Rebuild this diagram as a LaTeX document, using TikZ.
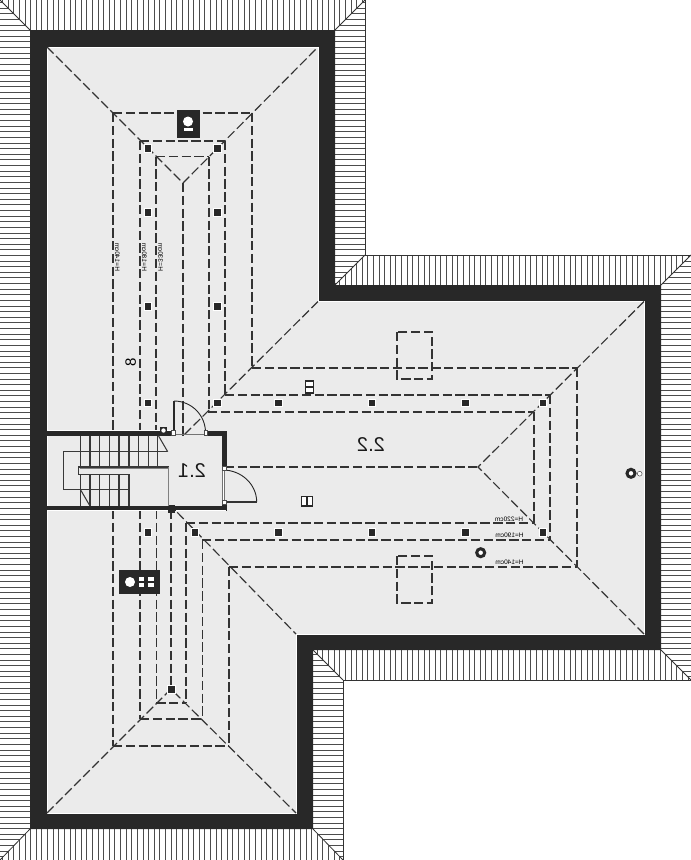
\documentclass[tikz,border=0pt]{standalone}
\usepackage{graphicx}
\usepackage{fontspec}
\setmainfont{Liberation Sans}
\definecolor{wallc}{HTML}{282828}
\definecolor{floorc}{HTML}{EBEBEB}
\definecolor{linec}{HTML}{333333}
\begin{document}
\begin{tikzpicture}[x=1pt,y=-1pt,line join=miter,
	ridge/.style={dashed,dash pattern=on 9.3pt off 3.5pt,line width=1.15pt,color=linec},
	hatchline/.style={line width=.85pt,color=black!70},
	stairline/.style={line width=1.05pt,color=black!78},
	post/.style={draw=white,line width=.5pt,fill=wallc,minimum size=7.5pt,inner sep=0pt},
	dimlbl/.style={font=\fontsize{6.5}{7}\selectfont,inner sep=0pt,color=black},
	roomlbl/.style={font=\fontsize{20}{22}\selectfont,inner sep=0pt,color=black!90}]
	\useasboundingbox (0,0) rectangle (691,860);
	\fill[white] (0,0) rectangle (691,860);
	% roof hatching, level lines
	\begin{scope}
		\clip (0,0)--(30,30)--(30,829)--(0,860)--cycle
			(335,30)--(365,0)--(365,255)--(335,285)--cycle
			(661,285)--(691,255)--(691,680)--(661,650)--cycle
			(313,650)--(343,680)--(343,860)--(313,829)--cycle;
		\foreach \y in {2.5,8.12,...,860}
		\draw[hatchline] (0,\y)--(691,\y);
	\end{scope}
	% roof hatching, upright lines
	\begin{scope}
		\clip (0,0)--(365,0)--(335,30)--(30,30)--cycle
			(335,285)--(365,255)--(691,255)--(661,285)--cycle
			(313,650)--(661,650)--(691,680)--(343,680)--cycle
			(30,829)--(313,829)--(343,860)--(0,860)--cycle;
		\foreach \x in {2.5,8.12,...,691}
		\draw[hatchline] (\x,0)--(\x,860);
	\end{scope}
	% eaves and mitres
	\draw[line width=.8pt,color=black!80] (365,0)--(365,255)--(691,255) (691,680)--(343,680)--(343,860);
	\draw[line width=.8pt,color=black!80] (0,0)--(30,30) (365,0)--(335,30) (335,285)--(365,255)
		(661,285)--(691,255) (661,650)--(691,680) (313,650)--(343,680) (313,829)--(343,860) (30,829)--(0,860);
	% walls and floor
	\fill[wallc] (30,30)--(335,30)--(335,285)--(661,285)--(661,650)--(313,650)--(313,829)--(30,829)--cycle;
	\draw[fill=floorc,draw=white,line width=.8pt] (47,47)--(318,47)--(318,301.5)--(644,301.5)--(644,634)--(296,634)--(296,813)--(47,813)--cycle;
	% ridges and hips
	\draw[ridge] (47,47)--(183,183)--(318,47);
	\draw[ridge] (113,113)--(252,113) (140,141)--(225,141) (156,156.5)--(209,156.5);
	\draw[ridge] (113,113)--(113,431) (140,141)--(140,431) (156,156.5)--(156,431) (183,183)--(183,436);
	\draw[ridge] (209,156.5)--(209,412) (225,141)--(225,395) (252,113)--(252,368);
	\draw[ridge] (318,301.5)--(182,437)--(212,467);
	\draw[ridge] (212,467)--(172,507)--(296,634);
	\draw[ridge] (212,467)--(478,467);
	\draw[ridge] (252,368)--(577,368) (225,395)--(550,395) (208,412)--(534,412);
	\draw[ridge] (644,301.5)--(478,467)--(644,634);
	\draw[ridge] (534,412)--(534,523) (550,395)--(550,540) (577,368)--(577,567);
	\draw[ridge] (186,523)--(534,523) (202,540)--(550,540) (229,567)--(577,567);
	\draw[ridge] (113,510)--(113,746) (140,510)--(140,719) (156.3,510)--(156.3,703) (171,510)--(171,689);
	\draw[ridge] (186,523)--(186,703) (202.5,540)--(202.5,719) (229,567)--(229,746);
	\draw[ridge] (113,746)--(229,746) (140,719)--(202.5,719) (156.3,703)--(186,703);
	\draw[ridge] (47,813)--(171,689)--(296,813);
	% skylights
	\draw[ridge] (397,332) rectangle (432,379);
	\draw[ridge] (397,556) rectangle (432,603);
	% posts
	\foreach \x/\y [count=\i] in {147.6/148,217.3/148,147.6/212,217.3/212,147.6/306,217.3/306,147.6/402.5,217.3/402.5,
		278/402.5,371.7/402.5,465/402.5,542.7/402.5,147.6/532.3,194.7/532.3,278/532.3,371.7/532.3,465/532.3,542.7/532.3,171/689}
	\node[post] (post\i) at (\x,\y) {};
	% chimneys
	\fill[wallc] (177,109.5) rectangle (199.5,138);
	\fill[white] (188,121.5) circle (5);
	\fill[white] (183.5,127.7) rectangle (193,131);
	\fill[wallc] (118.5,570) rectangle (160,593.5);
	\fill[white] (130,582) circle (5);
	\foreach \x/\w in {139/5.3,147.7/6.3}
	\foreach \y in {576.7,582.8}
	\fill[white] (\x,\y) rectangle (\x+\w,\y+4);
	% vents
	\draw[wallc,line width=3pt,fill=white] (631,473.3) circle (4);
	\draw[black!70,line width=.5pt,fill=white] (639.7,473.7) circle (2.4);
	\draw[wallc,line width=3pt,fill=white] (480.7,552.7) circle (4);
	% roof windows
	\draw[wallc,line width=1.4pt,fill=white] (305.5,381) rectangle (313.5,393) (305.5,387)--(313.5,387);
	\draw[wallc,line width=1.4pt,fill=white] (301.5,496.5) rectangle (312.5,506) (307,496.5)--(307,506);
	% stair room walls
	\fill[floorc] (47.5,436) rectangle (222,506);
	\draw[wallc,fill=wallc,line width=0pt] (47,431) rectangle (173,435.5) (205.5,431) rectangle (226,435.5);
	\draw[wallc,fill=wallc,line width=0pt] (222,431) rectangle (226,467) (222,504) rectangle (226,510);
	\draw[wallc,fill=wallc,line width=0pt] (47,506) rectangle (226,510);
	\draw[white,line width=.7pt] (47,430.5)--(173,430.5) (47,510.5)--(168,510.5) (176,510.5)--(226,510.5);
	\draw[black!55,line width=.6pt] (173,434.5)--(205.5,434.5);
	\fill[wallc] (160,427) rectangle (167,434);
	\fill[white] (163.5,430.5) circle (2.2);
	\fill[wallc] (167.5,505) rectangle (175,512.5);
	% stairs
	\foreach \x in {80.7,90,99.3,109.3,119,129,138.7,148.3,157.7}
	\draw[stairline] (\x,435.5)--(\x,467);
	\foreach \x in {80.7,90,99.3,109.3,119,129}
	\draw[stairline] (\x,474.3)--(\x,506);
	\draw[stairline] (158.3,435.5)--(167.7,451.7) (80.7,490)--(90,506);
	\draw[stairline] (166.7,451.7)--(63.3,451.7)--(63.3,489.3)--(129,489.3);
	\draw[stairline] (169,467)--(78.3,467)--(78.3,474.3)--(129,474.3);
	\draw[line width=1.4pt,color=black!50] (168.3,467)--(168.3,506);
	\draw[line width=1pt,color=black!50] (80,468.3)--(168.3,468.3);
	% doors
	\draw[line width=.9pt,color=black!85] (174,401) arc (270:360:31.5);
	\draw[line width=1.6pt,color=wallc] (174,401)--(174,433);
	\draw[line width=.9pt,color=black!85] (222.7,470) arc [start angle=270,end angle=360,x radius=34,y radius=32];
	\draw[line width=1.3pt,color=black!80] (222.7,502)--(256.7,502);
	\draw[line width=.6pt,color=black!55,fill=white] (222.5,468) rectangle (223.8,503);
	\foreach \x/\y in {173.3/432.7,205.7/432.7,224.3/468.3,224.3/502.3}
	\draw[line width=.5pt,color=black!70,fill=white] (\x-1.6,\y-2.2) rectangle (\x+1.6,\y+2.2);
	% labels
	\node[roomlbl] (room1) at (192,470.5) {\reflectbox{2.1}};
	\node[roomlbl] (room2) at (371,444.5) {\reflectbox{2.2}};
	\node[dimlbl,rotate=-90] (dim1) at (117.3,257) {\reflectbox{H=140cm}};
	\node[dimlbl,rotate=-90] (dim2) at (144.3,257) {\reflectbox{H=180cm}};
	\node[dimlbl,rotate=-90] (dim3) at (160.7,257) {\reflectbox{H=330cm}};
	\node[dimlbl] (dim4) at (509,519) {\reflectbox{H=220cm}};
	\node[dimlbl] (dim5) at (509.5,535.3) {\reflectbox{H=190cm}};
	\node[dimlbl] (dim6) at (509.5,562.3) {\reflectbox{H=140cm}};
	\node[font=\fontsize{15}{16}\selectfont,inner sep=0pt,rotate=90] (mark8) at (130.7,362.7) {8};
\end{tikzpicture}
\end{document}
